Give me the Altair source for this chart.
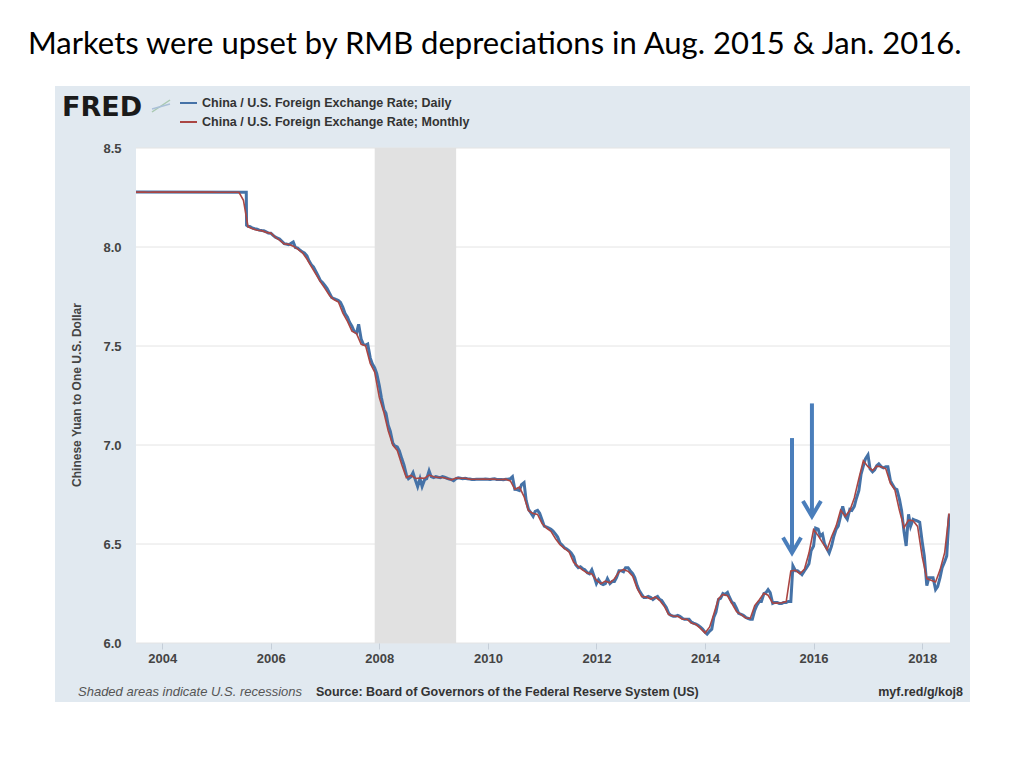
import altair as alt
import pandas as pd

# ---------------- text ----------------
TITLE = "Markets were upset by RMB depreciations in Aug. 2015 & Jan. 2016."
DAILY_LABEL = "China / U.S. Foreign Exchange Rate; Daily"
MONTHLY_LABEL = "China / U.S. Foreign Exchange Rate; Monthly"
Y_TITLE = "Chinese Yuan to One U.S. Dollar"
NOTE = "Shaded areas indicate U.S. recessions"
SOURCE = "Source: Board of Governors of the Federal Reserve System (US)"
LINK = "myf.red/g/koj8"
LOGO = "FRED"

# ---------------- data ----------------
monthly_start = "2003-07-01"
monthly_values = [
    8.2772, 8.2771, 8.2772, 8.2768, 8.2772, 8.2769,
    8.2770, 8.2770, 8.2770, 8.2770, 8.2770, 8.2770, 8.2770, 8.2770, 8.2770, 8.2770, 8.2770, 8.2770,
    8.2765, 8.2765, 8.2765, 8.2765, 8.2765, 8.2765, 8.2360, 8.1019, 8.0920, 8.0845, 8.0826, 8.0739,
    8.0702, 8.0487, 8.0350, 8.0156, 8.0143, 8.0042, 7.9897, 7.9722, 7.9392, 7.9007, 7.8616, 7.8238,
    7.7898, 7.7540, 7.7348, 7.7221, 7.6662, 7.6247, 7.5748, 7.5624, 7.5087, 7.5015, 7.4116, 7.3682,
    7.2405, 7.1644, 7.0722, 6.9997, 6.9725, 6.8993, 6.8355, 6.8463, 6.8310, 6.8330, 6.8320, 6.8482,
    6.8392, 6.8360, 6.8360, 6.8304, 6.8239, 6.8327, 6.8319, 6.8317, 6.8277, 6.8267, 6.8271, 6.8275,
    6.8269, 6.8285, 6.8262, 6.8256, 6.8275, 6.8184, 6.7762, 6.7873, 6.7396, 6.6678, 6.6538, 6.6497,
    6.6018, 6.5795, 6.5644, 6.5267, 6.4960, 6.4763, 6.4599, 6.4070, 6.3856, 6.3681, 6.3541, 6.3482,
    6.3165, 6.2997, 6.3125, 6.3043, 6.3242, 6.3590, 6.3716, 6.3620, 6.3370, 6.2758, 6.2338, 6.2328,
    6.2215, 6.2323, 6.2154, 6.1861, 6.1433, 6.1366, 6.1345, 6.1198, 6.1200, 6.1014, 6.0932, 6.0738,
    6.0509, 6.0812, 6.1467, 6.2240, 6.2451, 6.2386, 6.1996, 6.1579, 6.1436, 6.1264, 6.1238, 6.1892,
    6.2187, 6.2509, 6.2413, 6.2017, 6.2014, 6.2036, 6.2094, 6.3639, 6.3672, 6.3498, 6.3739, 6.4541,
    6.5721, 6.5424, 6.5071, 6.4713, 6.5365, 6.5916, 6.6710, 6.6396, 6.6689, 6.7322, 6.8314, 6.9208,
    6.8907, 6.8713, 6.8932, 6.8903, 6.8798, 6.8066, 6.7742, 6.6685, 6.5824, 6.6206, 6.6171, 6.5890,
    6.4345, 6.3254, 6.3173, 6.3083, 6.3694, 6.4559, 6.6550,
]

daily_head_dates = ["2003-07-01", "2005-07-20", "2005-07-22"]
daily_head_values = [8.2772, 8.2765, 8.1100]
daily_semimonthly_start = "2005-08-01"
daily_semimonthly_values = [
    8.1050, 8.1030, 8.0950, 8.0920, 8.0900, 8.0850, 8.0830, 8.0820, 8.0770, 8.0710,
    8.0700, 8.0600, 8.0500, 8.0450, 8.0400, 8.0300, 8.0170, 8.0150, 8.0120, 8.0170, 8.0250, 7.9980,
    7.9950, 7.9850, 7.9750, 7.9700, 7.9550, 7.9300, 7.9100, 7.9000, 7.8750, 7.8550, 7.8300, 7.8200,
    7.8050, 7.7900, 7.7650, 7.7450, 7.7400, 7.7350, 7.7300, 7.7200, 7.6950, 7.6650, 7.6450, 7.6200,
    7.6000, 7.5750, 7.5650, 7.6100, 7.5350, 7.5100, 7.5050, 7.5100, 7.4400, 7.4100, 7.3900, 7.3600,
    7.3000, 7.2400, 7.1800, 7.1600, 7.1000, 7.0700, 7.0100, 6.9950, 6.9900, 6.9700, 6.9300, 6.9000,
    6.8500, 6.8300, 6.8400, 6.8600, 6.8200, 6.7900, 6.8300, 6.7900, 6.8250, 6.8300, 6.8700, 6.8400,
    6.8350, 6.8400, 6.8370, 6.8350, 6.8400, 6.8370, 6.8320, 6.8280, 6.8250, 6.8200, 6.8300, 6.8340,
    6.8320, 6.8300, 6.8320, 6.8300, 6.8280, 6.8260, 6.8260, 6.8270, 6.8270, 6.8270, 6.8270, 6.8280,
    6.8270, 6.8260, 6.8280, 6.8290, 6.8260, 6.8260, 6.8260, 6.8250, 6.8270, 6.8270, 6.8300, 6.8400,
    6.7760, 6.7750, 6.7700, 6.8000, 6.8100, 6.7200, 6.6750, 6.6600, 6.6400, 6.6650, 6.6700, 6.6550,
    6.6200, 6.5900, 6.5850, 6.5800, 6.5750, 6.5650, 6.5500, 6.5350, 6.5050, 6.4950, 6.4800, 6.4750,
    6.4650, 6.4550, 6.4350, 6.3950, 6.3800, 6.3850, 6.3750, 6.3700, 6.3550, 6.3500, 6.3700, 6.3400,
    6.3000, 6.3200, 6.3000, 6.2950, 6.3000, 6.3250, 6.3000, 6.3100, 6.3100, 6.3300, 6.3650, 6.3650,
    6.3600, 6.3800, 6.3800, 6.3650, 6.3500, 6.3300, 6.2900, 6.2650, 6.2450, 6.2300, 6.2300, 6.2350,
    6.2300, 6.2200, 6.2300, 6.2350, 6.2200, 6.2150, 6.1950, 6.1800, 6.1500, 6.1400, 6.1350, 6.1350,
    6.1400, 6.1350, 6.1250, 6.1200, 6.1200, 6.1200, 6.1050, 6.1000, 6.0950, 6.0900, 6.0800, 6.0700,
    6.0550, 6.0450, 6.0600, 6.0700, 6.1300, 6.1550, 6.2200, 6.2250, 6.2500, 6.2450, 6.2550, 6.2300,
    6.2050, 6.2000, 6.1750, 6.1500, 6.1450, 6.1400, 6.1300, 6.1250, 6.1200, 6.1200, 6.1650, 6.1900,
    6.2100, 6.2100, 6.2500, 6.2550, 6.2700, 6.2550, 6.2000, 6.2050, 6.2050, 6.2000, 6.2000, 6.2050,
    6.2050, 6.2100, 6.2100, 6.3900, 6.3650, 6.3650, 6.3550, 6.3450, 6.3650, 6.3800, 6.4000, 6.4650,
    6.4900, 6.5800, 6.5750, 6.5400, 6.5500, 6.5000, 6.4750, 6.4550, 6.4900, 6.5350, 6.5750, 6.5900,
    6.6400, 6.6900, 6.6400, 6.6250, 6.6750, 6.6700, 6.6900, 6.7300, 6.7700, 6.8500, 6.8950, 6.9300,
    6.9500, 6.8800, 6.8650, 6.8750, 6.8950, 6.9050, 6.8900, 6.8850, 6.8900, 6.8900, 6.8200, 6.8000,
    6.7800, 6.7750, 6.7250, 6.6700, 6.5600, 6.4900, 6.6500, 6.5900, 6.6250, 6.6200, 6.6150, 6.6100,
    6.5100, 6.4400, 6.2900, 6.3300, 6.3300, 6.3300, 6.2700, 6.2850, 6.3300, 6.3800, 6.4100, 6.4400,
]
daily_tail_dates = ["2018-06-29", "2018-07-03"]
daily_tail_values = [6.6200, 6.6500]

recession_start = ["2007-12-01"]
recession_end = ["2009-06-01"]

arrow_dates = ["2015-08-09", "2015-12-21"]
arrow_top = [7.035, 7.210]
arrow_tip = [6.455, 6.640]

grid_values = [6.0, 6.5, 7.0, 7.5, 8.0, 8.5]
year_ticks = [2004, 2006, 2008, 2010, 2012, 2014, 2016, 2018]
x_domain = ["2003-07-09", "2018-07-07"]
y_domain = [6.0, 8.5]

# ---------------- tables ----------------
monthly_dates = pd.date_range(monthly_start, periods=len(monthly_values), freq="MS")
monthly = pd.DataFrame({"date": monthly_dates.strftime("%Y-%m-%d"), "value": monthly_values})

semi_dates = pd.date_range(daily_semimonthly_start, periods=len(daily_semimonthly_values), freq="SMS")
daily = pd.DataFrame({
    "date": daily_head_dates + list(semi_dates.strftime("%Y-%m-%d")) + daily_tail_dates,
    "value": daily_head_values + daily_semimonthly_values + daily_tail_values,
})
recession = pd.DataFrame({"start": recession_start, "end": recession_end})
arrows = pd.DataFrame({"date": arrow_dates, "top": arrow_top, "tip": arrow_tip})
grid = pd.DataFrame({"value": grid_values})


def dt(s):
    y, m, d = (int(p) for p in s.split("-"))
    return alt.DateTime(year=y, month=m, date=d, utc=True)


W, H = 814, 495
FONT = "Liberation Sans, Arial, sans-serif"
PANEL = "#e1e9f0"
BLUE = "#4572a7"
RED = "#aa4643"
ARROW = "#4a7ebb"

x_scale = alt.Scale(type="utc", domain=[dt(x_domain[0]), dt(x_domain[1])])
y_scale = alt.Scale(domain=y_domain, nice=False, zero=False)

x_axis = alt.Axis(
    values=[alt.DateTime(year=y, month=1, date=1, utc=True) for y in year_ticks],
    format="%Y", title=None, domain=False, grid=False, ticks=True,
    tickColor="#c5ced8", tickSize=6, labelPadding=3,
    labelFont=FONT, labelFontSize=13, labelFontWeight="bold", labelColor="#444444",
    labelOverlap=False, labelFlush=False, zindex=1,
)
y_axis = alt.Axis(
    values=grid_values, format=".1f", title=None, domain=False, grid=False, ticks=False,
    labelPadding=15, labelFont=FONT, labelFontSize=13, labelFontWeight="bold",
    labelColor="#444444", zindex=1,
)

one = pd.DataFrame({"k": [0]})


def text_layer(txt, x, y, size, weight="normal", color="#333333", align="left",
               baseline="middle", font=FONT, style="normal", angle=0):
    return alt.Chart(pd.DataFrame({"t": [txt]})).mark_text(
        font=font, fontSize=size, fontWeight=weight, color=color, align=align,
        baseline=baseline, fontStyle=style, angle=angle,
    ).encode(x=alt.value(x), y=alt.value(y), text="t:N")


panel = alt.Chart(one).mark_rect(color=PANEL).encode(
    x=alt.value(-81), x2=alt.value(834), y=alt.value(-62), y2=alt.value(554))
plot_bg = alt.Chart(one).mark_rect(color="white").encode(
    x=alt.value(0), x2=alt.value(W), y=alt.value(0), y2=alt.value(H))

grid_layer = alt.Chart(grid).mark_rule(color="#e4e4e4", strokeWidth=1).encode(
    y=alt.Y("value:Q", scale=y_scale, axis=y_axis))

rec_layer = alt.Chart(recession).mark_rect(color="#e1e1e1").encode(
    x=alt.X("start:T", scale=x_scale, axis=x_axis), x2="end:T",
    y=alt.value(0), y2=alt.value(H))

daily_layer = alt.Chart(daily).mark_line(color=BLUE, strokeWidth=3, clip=True).encode(
    x=alt.X("date:T", scale=x_scale, axis=x_axis),
    y=alt.Y("value:Q", scale=y_scale, axis=y_axis))

monthly_layer = alt.Chart(monthly).mark_line(color=RED, strokeWidth=1.6, clip=True).encode(
    x=alt.X("date:T", scale=x_scale, axis=x_axis),
    y=alt.Y("value:Q", scale=y_scale, axis=y_axis))

arrow_shaft = alt.Chart(arrows).mark_rule(color=ARROW, strokeWidth=4, strokeCap="butt").encode(
    x=alt.X("date:T", scale=x_scale, axis=x_axis),
    y=alt.Y("top:Q", scale=y_scale, axis=y_axis), y2="tip:Q")

arrow_head = alt.Chart(arrows).mark_point(
    shape="M-1,-1.7L0,0L1,-1.7", filled=False, color=ARROW, strokeWidth=4,
    size=324, opacity=1, strokeJoin="miter",
).encode(
    x=alt.X("date:T", scale=x_scale, axis=x_axis),
    y=alt.Y("tip:Q", scale=y_scale, axis=y_axis))

legend_blue = alt.Chart(one).mark_rule(color=BLUE, strokeWidth=2).encode(
    x=alt.value(44), x2=alt.value(61), y=alt.value(-45))
legend_red = alt.Chart(one).mark_rule(color=RED, strokeWidth=2).encode(
    x=alt.value(44), x2=alt.value(61), y=alt.value(-26))
icon_a = alt.Chart(one).mark_rule(color="#a9c9b0", strokeWidth=1.5).encode(
    x=alt.value(16), x2=alt.value(34), y=alt.value(-36), y2=alt.value(-48))
icon_b = alt.Chart(one).mark_rule(color="#aac0d8", strokeWidth=1.5).encode(
    x=alt.value(16), x2=alt.value(34), y=alt.value(-39), y2=alt.value(-44))

layers = [
    panel, plot_bg, grid_layer, rec_layer, daily_layer, monthly_layer,
    arrow_shaft, arrow_head, legend_blue, legend_red, icon_a, icon_b,
    text_layer(TITLE, -108, -94, 31, color="#000000", baseline="alphabetic",
               font="Lato, Carlito, Calibri, sans-serif"),
    text_layer(LOGO, -74, -32, 27, weight="bold", color="#1a1a1a", baseline="alphabetic",
               font="DejaVu Sans, sans-serif"),
    text_layer(DAILY_LABEL, 66, -45, 12.5, weight="bold"),
    text_layer(MONTHLY_LABEL, 66, -26, 12.5, weight="bold"),
    text_layer(Y_TITLE, -59, 247, 12, weight="bold", color="#444444", align="center", angle=270),
    text_layer(NOTE, -58, 544, 13, color="#555555", style="italic"),
    text_layer(SOURCE, 180, 544, 12.5, weight="bold"),
    text_layer(LINK, 827, 544, 12.5, weight="bold", align="right"),
]

chart = alt.layer(*layers).properties(
    width=W, height=H,
    padding={"left": 128, "top": 140, "right": 58, "bottom": 100},
    autosize=alt.AutoSizeParams(type="none"),
    background="white",
).configure_view(stroke="transparent", fill="transparent")

chart.save("out.html", embed_options={"renderer": "svg", "actions": False})
